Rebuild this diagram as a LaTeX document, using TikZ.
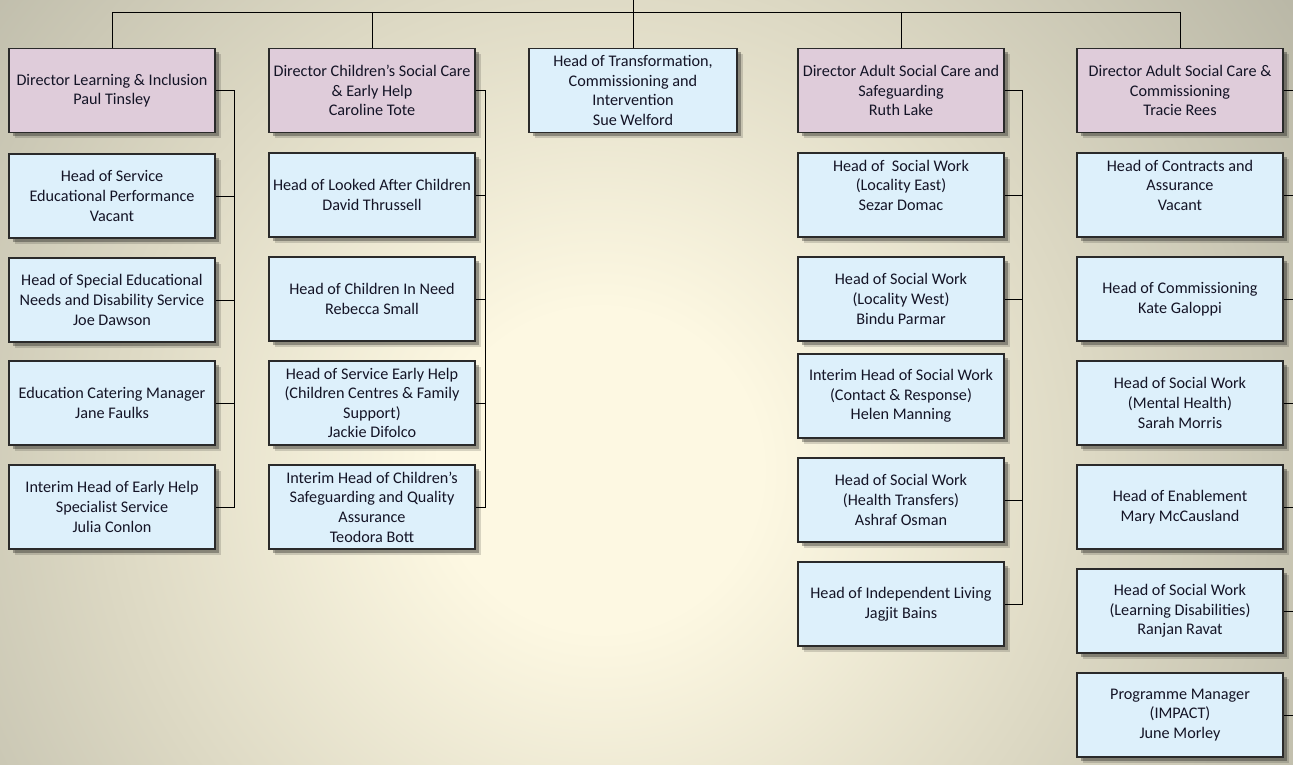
\documentclass[tikz,border=0pt]{standalone}
\usepackage{fontspec}
\setmainfont{Carlito}
\usetikzlibrary{shadows}
\definecolor{bgin}{HTML}{FDF8E2}
\definecolor{bgmid}{HTML}{DCD8C3}
\definecolor{bgout}{HTML}{A9A899}
\definecolor{dirfill}{HTML}{DFCCDA}
\definecolor{boxfill}{HTML}{DDF0FB}
\definecolor{txt}{HTML}{141426}
\definecolor{edge}{HTML}{2A2A2A}
\pgfdeclareradialshading{bgrad}{\pgfpoint{0bp}{0bp}}{color(0bp)=(bgin); color(4bp)=(bgin); color(12.5bp)=(bgmid); color(25bp)=(bgout); color(50bp)=(bgout)}
\tikzset{
  card/.style={draw=edge, line width=1.2pt, minimum width=206pt, minimum height=84pt,
    inner sep=1pt, align=center, text=txt, font=\fontsize{16.2}{19.6}\selectfont,
    drop shadow={shadow xshift=6pt, shadow yshift=-6pt, fill=black, opacity=0.15},
    drop shadow={shadow xshift=4pt, shadow yshift=-4pt, fill=black, opacity=0.3}},
  dirbox/.style={card, fill=dirfill},
  subbox/.style={card, fill=boxfill},
  conn/.style={draw=black, line width=1pt}
}
\begin{document}
\begin{tikzpicture}[x=1pt,y=-1pt]
\useasboundingbox (0,0) rectangle (1293,765);
\begin{scope}
\clip (0,0) rectangle (1293,765);
\shade[shading=bgrad] (600,470) circle (1000);
\end{scope}

% coordinates for bus and vertical connectors
\coordinate (root) at (633,0);
\coordinate (bus) at (633,13);
\coordinate (v1) at (234,0);
\coordinate (v2) at (485,0);
\coordinate (v4) at (1022,0);
\coordinate (v5) at (1302,0);

% column 1
\node[dirbox] (d1) at (112,90.5) {Director Learning \& Inclusion\\Paul Tinsley};
\node[subbox] (c11) at (112,196) {Head of Service\\Educational Performance\\Vacant};
\node[subbox] (c12) at (112,300) {Head of Special Educational\\Needs and Disability Service\\Joe Dawson};
\node[subbox] (c13) at (112,403) {Education Catering Manager\\Jane Faulks};
\node[subbox] (c14) at (112,507) {Interim Head of Early Help\\Specialist Service\\Julia Conlon};

% column 2
\node[dirbox] (d2) at (372,90.5) {Director Children’s Social Care\\\& Early Help\\Caroline Tote};
\node[subbox] (c21) at (372,195) {Head of Looked After Children\\David Thrussell};
\node[subbox] (c22) at (372,299) {Head of Children In Need\\Rebecca Small};
\node[subbox] (c23) at (372,403) {Head of Service Early Help\\(Children Centres \& Family\\Support)\\Jackie Difolco};
\node[subbox] (c24) at (372,507) {Interim Head of Children’s\\Safeguarding and Quality\\Assurance\\Teodora Bott};

% column 3
\node[subbox, minimum width=208pt] (h3) at (633,90.5) {Head of Transformation,\\Commissioning and\\Intervention\\Sue Welford};

% column 4
\node[dirbox] (d4) at (901,90.5) {Director Adult Social Care and\\Safeguarding\\Ruth Lake};
\node[subbox] (c41) at (901,195) {Head of~ Social Work\\(Locality East)\\Sezar Domac\\[0pt]};
\node[subbox] (c42) at (901,299) {Head of Social Work\\(Locality West)\\Bindu Parmar};
\node[subbox] (c43) at (901,396) {Interim Head of Social Work\\(Contact \& Response)\\Helen Manning};
\node[subbox] (c44) at (901,500) {Head of Social Work\\(Health Transfers)\\Ashraf Osman};
\node[subbox] (c45) at (901,604) {Head of Independent Living\\Jagjit Bains};

% column 5
\node[dirbox] (d5) at (1180,90.5) {Director Adult Social Care \&\\Commissioning\\Tracie Rees};
\node[subbox] (c51) at (1180,195) {Head of Contracts and\\Assurance\\Vacant\\[0pt]};
\node[subbox] (c52) at (1180,299) {Head of Commissioning\\Kate Galoppi};
\node[subbox] (c53) at (1180,403) {Head of Social Work\\(Mental Health)\\Sarah Morris};
\node[subbox] (c54) at (1180,507) {Head of Enablement\\Mary McCausland};
\node[subbox] (c55) at (1180,611) {Head of Social Work\\(Learning Disabilities)\\Ranjan Ravat};
\node[subbox] (c56) at (1180,715) {Programme Manager\\(IMPACT)\\June Morley};

% top bus
\draw[conn] (root) -- (h3.north);
\draw[conn] (d1.north) |- (d5.north |- bus) -- (d5.north);
\draw[conn] (d2.north) -- (d2.north |- bus);
\draw[conn] (d4.north) -- (d4.north |- bus);

% column 1 connectors
\draw[conn] (d1.east) -| (v1 |- c14.east) -- (c14.east);
\foreach \n in {c11,c12,c13} \draw[conn] (\n.east) -- (v1 |- \n.east);
% column 2 connectors
\draw[conn] (d2.east) -| (v2 |- c24.east) -- (c24.east);
\foreach \n in {c21,c22,c23} \draw[conn] (\n.east) -- (v2 |- \n.east);
% column 4 connectors
\draw[conn] (d4.east) -| (v4 |- c45.east) -- (c45.east);
\foreach \n in {c41,c42,c44} \draw[conn] (\n.east) -- (v4 |- \n.east);
% column 5 connectors
\draw[conn] (d5.east) -| (v5 |- c56.east) -- (c56.east);
\foreach \n in {c51,c52,c53,c54,c55} \draw[conn] (\n.east) -- (v5 |- \n.east);
\end{tikzpicture}
\end{document}
